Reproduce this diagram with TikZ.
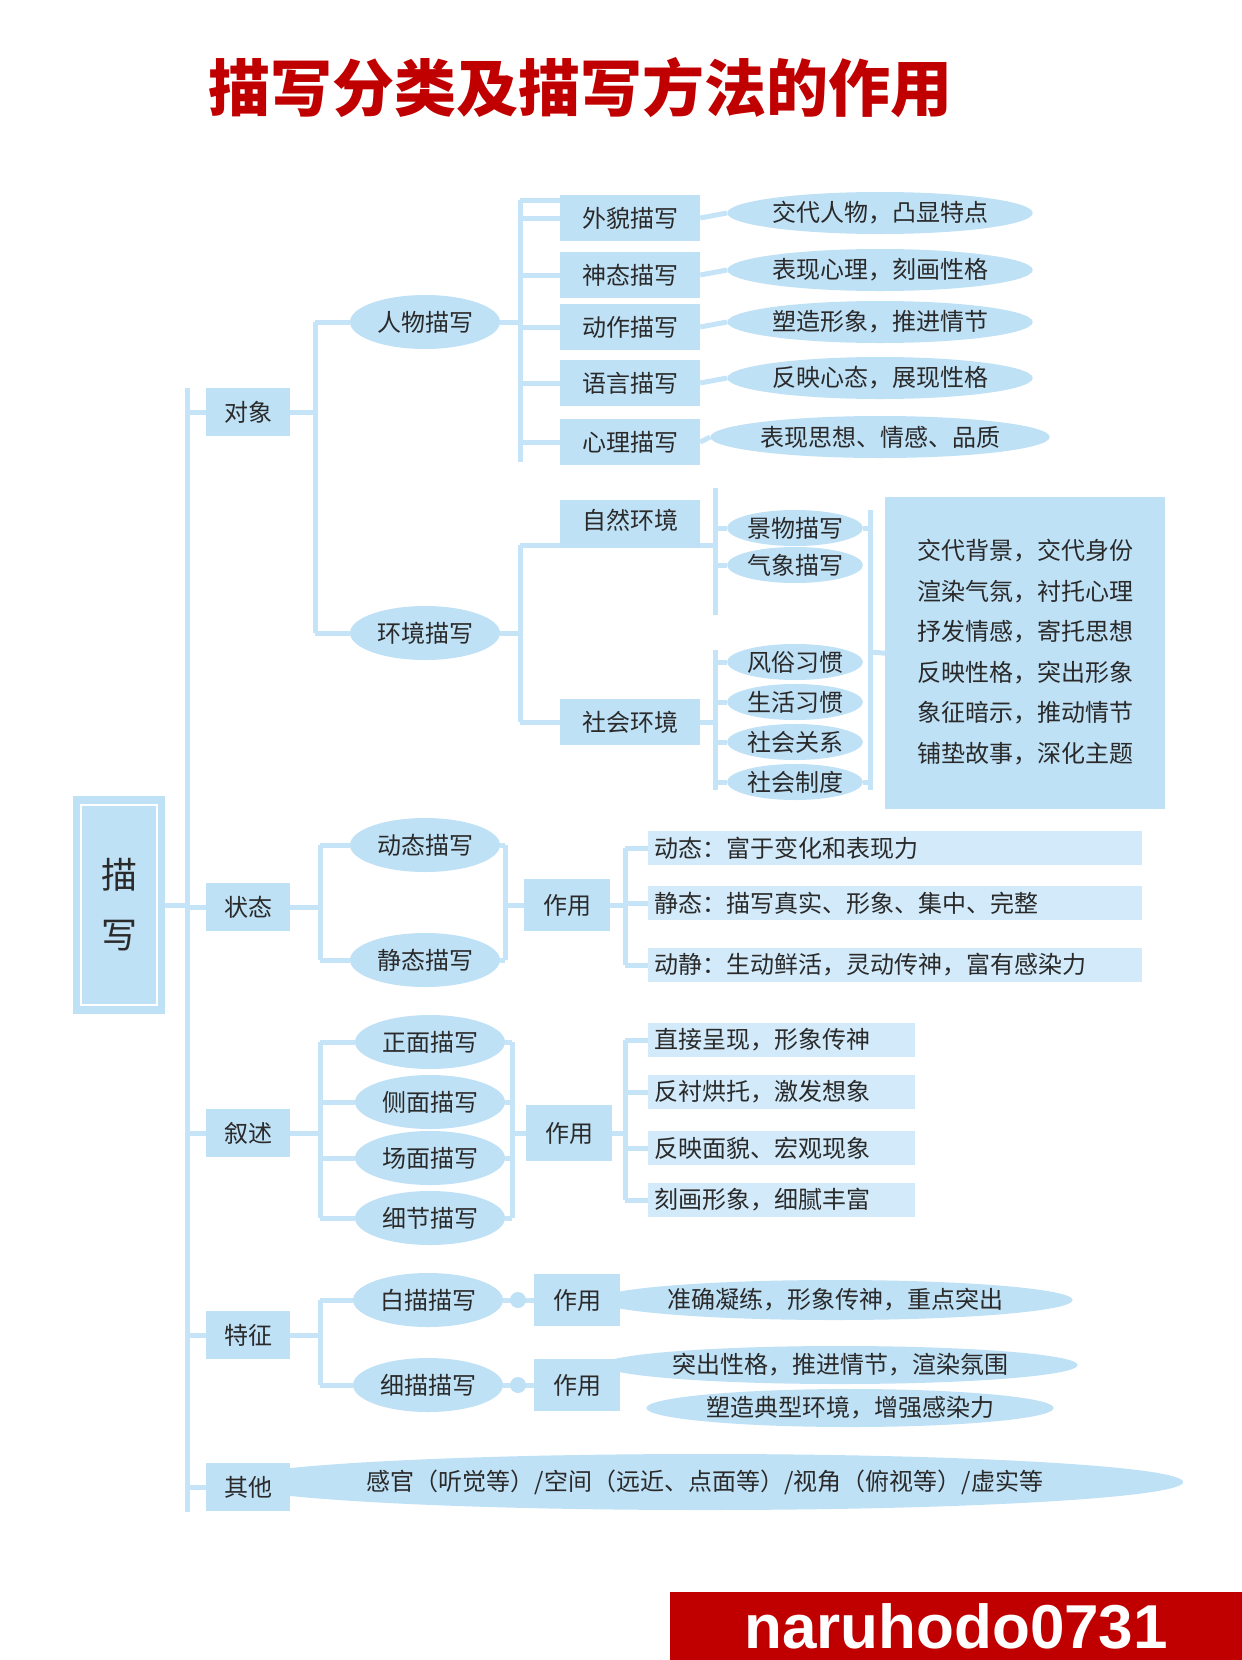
\documentclass[tikz,border=0pt]{standalone}
\usepackage{fontspec}
\setmainfont{Noto Sans CJK SC}
\newfontfamily\cjk{Noto Sans CJK SC}
\newfontfamily\wm{Liberation Sans}
\usetikzlibrary{shapes.geometric}
\definecolor{lb}{HTML}{BFE1F6}
\definecolor{ln}{HTML}{C6E4F7}
\definecolor{tx}{HTML}{2A2A2A}
\definecolor{rd}{HTML}{C00000}
\tikzset{
 every node/.style={text=tx,font=\fontsize{24}{28}\selectfont},
 conn/.style={draw=ln,line width=5pt},
 lvone/.style={fill=lb,minimum width=84pt,minimum height=48pt,inner sep=0pt},
 rect/.style={fill=lb,minimum width=140pt,minimum height=46pt,inner sep=0pt},
 ell/.style={ellipse,fill=lb,minimum width=150pt,minimum height=54pt,inner sep=0pt},
 lell/.style={ellipse,fill=lb,minimum width=300pt,minimum height=42pt,inner sep=0pt},
 sell/.style={ellipse,fill=lb,minimum width=130pt,minimum height=36pt,inner sep=0pt},
 bar/.style={fill=lb!70,minimum height=34pt,inner xsep=6pt,inner ysep=3pt,anchor=west,align=left},
}
\begin{document}
\begin{tikzpicture}[x=1pt,y=-1pt]
\useasboundingbox (0,0) rectangle (1242,1660);
\node[text=rd,font=\fontsize{62}{66}\selectfont\bfseries] (title) at (580,88) {描写分类及描写方法的作用};
% root
\node[fill=lb,minimum width=92pt,minimum height=218pt,inner sep=0pt] (root) at (119,905) {};
\draw[white,line width=2pt] (81,805) rectangle (157,1005);
\node[align=center,font=\fontsize{36}{60}\selectfont] (rootT) at (119,905) {描\\写};
% spine
\coordinate (sp1) at (187,388); \coordinate (sp2) at (187,1512);
\draw[conn] (sp1) -- (sp2);
\draw[conn] (root.east) -- (187,905);
% 其他 ellipse first (behind)
\node[ellipse,fill=lb,minimum width=790pt,minimum height=56pt,inner sep=0pt] (qe) at (705,1482) {感官（听觉等）/空间（远近、点面等）/视角（俯视等）/虚实等};
\foreach \n/\t/\y in {dx/对象/412,zt/状态/907,xs/叙述/1133,tz/特征/1335,qt/其他/1487}{
 \node[lvone] (\n) at (248,\y) {\t};
 \draw[conn] (187,\y) -- (\n.west);
}
% 对象
\node[ell] (rw) at (425,322) {人物描写};
\node[ell] (hj) at (425,633) {环境描写};
\draw[conn] (dx.east) -- (315,412);
\draw[conn] (315,322) -- (315,633);
\draw[conn] (315,322) -- (rw.west); \draw[conn] (315,633) -- (hj.west);
\draw[conn] (rw.east) -- (520,322);
\draw[conn] (520,200) -- (520,462);
\foreach \n/\t/\u/\y in {a1/外貌描写/交代人物，凸显特点/218,a2/神态描写/表现心理，刻画性格/275,a3/动作描写/塑造形象，推进情节/327,a4/语言描写/反映心态，展现性格/383,a5/心理描写/表现思想、情感、品质/442}{
 \node[rect] (\n) at (630,\y) {\t};
 \draw[conn] (520,\y) -- (\n.west);
 \node[lell] (\n e) at (880,\y-5) {\u};
 \draw[conn] (\n.east) -- (\n e.west);
}
\draw[conn] (520,200) -- (560,200);
% 环境
\draw[conn] (hj.east) -- (520,633);
\draw[conn] (520,545) -- (520,722);
\node[rect,minimum height=48pt,anchor=north west] (zr) at (560,500) {};
\node (zrT) at (630,520) {自然环境};
\node[rect] (sh) at (630,722) {社会环境};
\draw[conn] (520,545) -- (560,545); \draw[conn] (520,722) -- (sh.west);
\draw[conn] (715,488) -- (715,615);
\draw[conn] (700,545) -- (715,545);
\node[sell] (jw) at (795,528) {景物描写};
\node[sell] (qx) at (795,565) {气象描写};
\draw[conn] (715,528) -- (jw.west); \draw[conn] (715,565) -- (qx.west);
\draw[conn] (715,650) -- (715,790);
\draw[conn] (sh.east) -- (715,722);
\foreach \n/\t/\y in {f1/风俗习惯/662,f2/生活习惯/702,f3/社会关系/742,f4/社会制度/782}{
 \node[sell] (\n) at (795,\y) {\t};
 \draw[conn] (715,\y) -- (\n.west);
}
\node[fill=lb,minimum width=280pt,minimum height=312pt,anchor=north west,inner sep=0pt] (big) at (885,497) {};
\node[align=left,font=\fontsize{24}{40.5}\selectfont] (bigT) at (1025,652) {交代背景，交代身份\\渲染气氛，衬托心理\\抒发情感，寄托思想\\反映性格，突出形象\\象征暗示，推动情节\\铺垫故事，深化主题};
\draw[conn] (870,510) -- (870,790);
\draw[conn] (jw.east) -- (870,528); \draw[conn] (f4.east) -- (870,782);
\draw[conn] (870,652) -- (big.west);
% 状态
\draw[conn] (zt.east) -- (320,907);
\draw[conn] (320,845) -- (320,960);
\node[ell] (dt) at (425,845) {动态描写};
\node[ell] (jt) at (425,960) {静态描写};
\draw[conn] (320,845) -- (dt.west); \draw[conn] (320,960) -- (jt.west);
\draw[conn] (505,845) -- (505,960);
\draw[conn] (dt.east) -- (505,845); \draw[conn] (jt.east) -- (505,960);
\node[lvone,minimum width=86pt,minimum height=52pt] (zy1) at (567,905) {作用};
\draw[conn] (505,905) -- (zy1.west);
\draw[conn] (625,848) -- (625,965); \draw[conn] (zy1.east) -- (625,905);
\node[bar,text width=482pt] (b1) at (648,848) {动态：富于变化和表现力};
\node[bar,text width=482pt] (b2) at (648,903) {静态：描写真实、形象、集中、完整};
\node[bar,text width=482pt] (b3) at (648,965) {动静：生动鲜活，灵动传神，富有感染力};
\foreach \b/\y in {b1/848,b2/903,b3/965}{\draw[conn] (625,\y) -- (\b.west);}
% 叙述
\draw[conn] (xs.east) -- (320,1133);
\draw[conn] (320,1042) -- (320,1218);
\foreach \n/\t/\y in {s1/正面描写/1042,s2/侧面描写/1102,s3/场面描写/1158,s4/细节描写/1218}{
 \node[ell] (\n) at (430,\y) {\t};
 \draw[conn] (320,\y) -- (\n.west);
 \draw[conn] (\n.east) -- (512,\y);
}
\draw[conn] (512,1042) -- (512,1218);
\node[lvone,minimum width=86pt,minimum height=56pt] (zy2) at (569,1133) {作用};
\draw[conn] (512,1133) -- (zy2.west);
\draw[conn] (625,1040) -- (625,1200); \draw[conn] (zy2.east) -- (625,1133);
\foreach \n/\t/\y in {c1/直接呈现，形象传神/1040,c2/反衬烘托，激发想象/1092,c3/反映面貌、宏观现象/1148,c4/刻画形象，细腻丰富/1200}{
 \node[bar,text width=255pt] (\n) at (648,\y) {\t};
 \draw[conn] (625,\y) -- (\n.west);
}
% 特征
\draw[conn] (tz.east) -- (320,1335);
\draw[conn] (320,1300) -- (320,1385);
\node[ell] (bm) at (428,1300) {白描描写};
\node[ell] (xm) at (428,1385) {细描描写};
\draw[conn] (320,1300) -- (bm.west); \draw[conn] (320,1385) -- (xm.west);
\node[ellipse,fill=lb,minimum width=410pt,minimum height=40pt,inner sep=0pt] (t1) at (835,1300) {准确凝练，形象传神，重点突出};
\node[ellipse,fill=lb,minimum width=410pt,minimum height=38pt,inner sep=0pt] (t2) at (840,1365) {突出性格，推进情节，渲染氛围};
\node[ellipse,fill=lb,minimum width=390pt,minimum height=38pt,inner sep=0pt] (t3) at (850,1408) {塑造典型环境，增强感染力};
\node[lvone,minimum width=86pt,minimum height=52pt] (zy3) at (577,1300) {作用};
\node[lvone,minimum width=86pt,minimum height=52pt] (zy4) at (577,1385) {作用};
\draw[conn] (bm.east) -- (zy3.west); \draw[conn] (xm.east) -- (zy4.west);
\node[circle,fill=lb,minimum size=16pt] (d1) at (518,1300) {};
\node[circle,fill=lb,minimum size=16pt] (d2) at (518,1385) {};
% watermark
\node[fill=rd,minimum width=572pt,minimum height=68pt,inner sep=0pt,anchor=north west] (wmk) at (670,1592) {};
\node[text=white,font=\wm\fontsize{62}{62}\selectfont\bfseries] (wmT) at (956,1626) {naruhodo0731};
\end{tikzpicture}
\end{document}
